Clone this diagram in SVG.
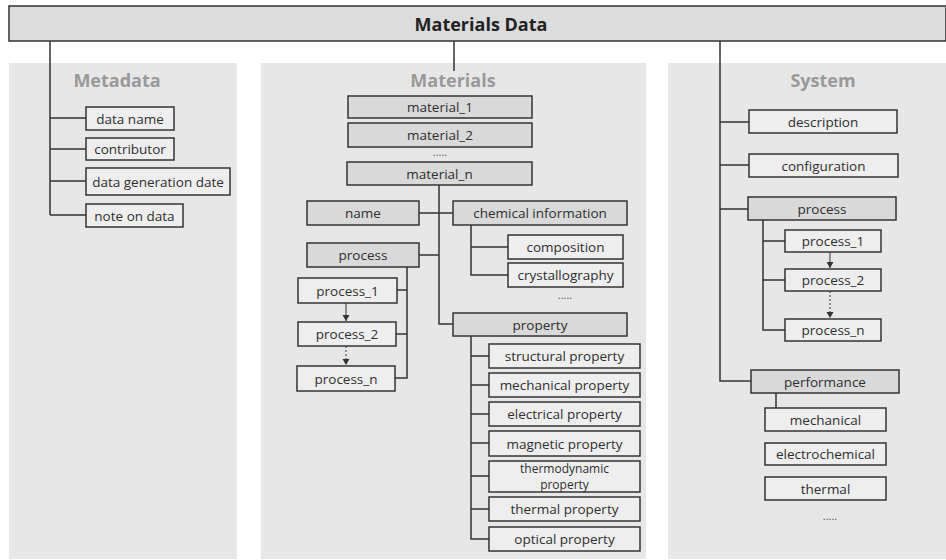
<svg xmlns="http://www.w3.org/2000/svg" width="946" height="560" viewBox="0 0 946 560">
<style>
.panel{fill:#e7e7e7}
.bx{fill:#eeeeee;stroke:#333;stroke-width:1.5}
.pb{fill:#d9d9d9;stroke:#333;stroke-width:1.5}
.t{font-family:"Open Sans","Noto Sans","DejaVu Sans",sans-serif;font-size:13.5px;fill:#2e2e2e;text-anchor:middle;dominant-baseline:central}
.h{font-family:"Open Sans","Noto Sans","DejaVu Sans",sans-serif;font-size:18px;font-weight:bold;fill:#999;text-anchor:middle}
.ln{fill:none;stroke:#333;stroke-width:1.5}
.ar{fill:none;stroke:#333;stroke-width:1}
.dt{fill:none;stroke:#333;stroke-width:1;stroke-dasharray:2 2}
.dots{font-family:"Open Sans","Noto Sans",sans-serif;font-size:11px;fill:#555;text-anchor:middle}
</style>
<defs>
<marker id="ah2" markerWidth="8" markerHeight="8" refX="7" refY="4" orient="auto" markerUnits="userSpaceOnUse" viewBox="0 0 8 8">
<path d="M1,0.5 L7,4 L1,7.5 Z" fill="#333"/>
</marker>
</defs>
<rect width="946" height="560" fill="#ffffff"/>

<g id="panels">
<rect class="panel" x="9" y="63" width="228" height="496"/>
<rect class="panel" x="261" y="63" width="385" height="496"/>
<rect class="panel" x="668" y="63" width="278" height="496"/>
<text class="h" x="117" y="87">Metadata</text>
<text class="h" x="453" y="87">Materials</text>
<text class="h" x="823" y="87">System</text>
</g>

<g id="connectors">
<path class="ln" d="M50,41 V215 M50,118 H86 M50,149 H86 M50,181 H86 M50,215 H86"/>
<path class="ln" d="M454,41 V71"/>
<path class="ln" d="M720,41 V381 H751 M720,122 H749 M720,165 H749 M720,209 H748"/>
<path class="ln" d="M439,185 V324 H453 M419,213 H453 M419,255 H439"/>
<path class="ln" d="M471,225 V275 H508 M471,247 H508"/>
<path class="ln" d="M407,267 V378 H395 M397,290 H407 M396,334 H407"/>
<path class="ln" d="M471,336 V539 H489 M471,356 H489 M471,385 H489 M471,414 H489 M471,443 H489 M471,476 H489 M471,509 H489"/>
<path class="ar" d="M346,303 V321" marker-end="url(#ah2)"/>
<path class="dt" d="M346,346 V365" marker-end="url(#ah2)"/>
<path class="ln" d="M763,220 V330 H785 M763,241 H785 M763,280 H785"/>
<path class="ar" d="M830,252 V268" marker-end="url(#ah2)"/>
<path class="dt" d="M830,291 V318" marker-end="url(#ah2)"/>
<path class="ln" d="M776,393 V408"/>
</g>

<g id="root">
<rect x="9" y="6" width="937" height="35" fill="#dcdcdc" stroke="#333" stroke-width="1.5"/>
<text x="481" y="24" font-family="'Open Sans','Noto Sans',sans-serif" font-size="18" font-weight="bold" fill="#222" text-anchor="middle" dominant-baseline="central">Materials Data</text>
</g>

<g id="meta-data-name"><rect class="bx" x="86" y="107" width="88" height="23"/><text class="t" x="130" y="118.5">data name</text></g>
<g id="meta-contributor"><rect class="bx" x="86" y="138" width="88" height="22"/><text class="t" x="130" y="149">contributor</text></g>
<g id="meta-date"><rect class="bx" x="86" y="168" width="144" height="27"/><text class="t" x="158" y="181.5">data generation date</text></g>
<g id="meta-note"><rect class="bx" x="86" y="204" width="97" height="23"/><text class="t" x="134.5" y="215.5">note on data</text></g>

<g id="material-1"><rect class="pb" x="348" y="96" width="184" height="22"/><text class="t" x="440" y="107">material_1</text></g>
<g id="material-2"><rect class="pb" x="348" y="123" width="184" height="24"/><text class="t" x="440" y="135">material_2</text></g>
<text class="dots" x="440" y="156">.....</text>
<g id="material-n"><rect class="pb" x="347" y="162" width="185" height="23"/><text class="t" x="439.5" y="173.5">material_n</text></g>

<g id="mat-name"><rect class="pb" x="307" y="201" width="112" height="24"/><text class="t" x="363" y="213">name</text></g>
<g id="mat-chem"><rect class="pb" x="453" y="201" width="174" height="24"/><text class="t" x="540" y="213">chemical information</text></g>
<g id="mat-composition"><rect class="bx" x="508" y="235" width="115" height="24"/><text class="t" x="565.5" y="247">composition</text></g>
<g id="mat-crystal"><rect class="bx" x="508" y="263" width="115" height="24"/><text class="t" x="565.5" y="275">crystallography</text></g>
<text class="dots" x="565" y="299">.....</text>

<g id="mat-process"><rect class="pb" x="307" y="243" width="112" height="24"/><text class="t" x="363" y="255">process</text></g>
<g id="mat-process-1"><rect class="bx" x="298" y="278" width="99" height="25"/><text class="t" x="347.5" y="290.5">process_1</text></g>
<g id="mat-process-2"><rect class="bx" x="298" y="322" width="98" height="24"/><text class="t" x="347" y="334">process_2</text></g>
<g id="mat-process-n"><rect class="bx" x="297" y="366" width="98" height="25"/><text class="t" x="346" y="378.5">process_n</text></g>

<g id="mat-property"><rect class="pb" x="453" y="313" width="174" height="23"/><text class="t" x="540" y="324.5">property</text></g>
<g id="prop-structural"><rect class="bx" x="489" y="344" width="151" height="24"/><text class="t" x="564.5" y="356">structural property</text></g>
<g id="prop-mechanical"><rect class="bx" x="489" y="373" width="151" height="24"/><text class="t" x="564.5" y="385">mechanical property</text></g>
<g id="prop-electrical"><rect class="bx" x="489" y="402" width="151" height="24"/><text class="t" x="564.5" y="414">electrical property</text></g>
<g id="prop-magnetic"><rect class="bx" x="489" y="431" width="151" height="25"/><text class="t" x="564.5" y="443.5">magnetic property</text></g>
<g id="prop-thermodynamic"><rect class="bx" x="489" y="461" width="151" height="31"/><text class="t" x="564.5" y="468" style="font-size:12px">thermodynamic</text><text class="t" x="564.5" y="484" style="font-size:12px">property</text></g>
<g id="prop-thermal"><rect class="bx" x="489" y="497" width="151" height="24"/><text class="t" x="564.5" y="509">thermal property</text></g>
<g id="prop-optical"><rect class="bx" x="489" y="527" width="151" height="24"/><text class="t" x="564.5" y="539">optical property</text></g>

<g id="sys-description"><rect class="bx" x="749" y="110" width="148" height="23"/><text class="t" x="823" y="121.5">description</text></g>
<g id="sys-configuration"><rect class="bx" x="749" y="154" width="149" height="23"/><text class="t" x="823.5" y="165.5">configuration</text></g>
<g id="sys-process"><rect class="pb" x="748" y="197" width="148" height="23"/><text class="t" x="822" y="208.5">process</text></g>
<g id="sys-process-1"><rect class="bx" x="785" y="230" width="96" height="22"/><text class="t" x="833" y="241">process_1</text></g>
<g id="sys-process-2"><rect class="bx" x="785" y="269" width="96" height="22"/><text class="t" x="833" y="280">process_2</text></g>
<g id="sys-process-n"><rect class="bx" x="785" y="319" width="96" height="22"/><text class="t" x="833" y="330">process_n</text></g>
<g id="sys-performance"><rect class="pb" x="751" y="370" width="148" height="23"/><text class="t" x="825" y="381.5">performance</text></g>
<g id="perf-mechanical"><rect class="bx" x="765" y="408" width="121" height="23"/><text class="t" x="825.5" y="419.5">mechanical</text></g>
<g id="perf-electrochemical"><rect class="bx" x="765" y="443" width="121" height="22"/><text class="t" x="825.5" y="454">electrochemical</text></g>
<g id="perf-thermal"><rect class="bx" x="765" y="477" width="121" height="23"/><text class="t" x="825.5" y="488.5">thermal</text></g>
<text class="dots" x="830" y="520">.....</text>
</svg>
